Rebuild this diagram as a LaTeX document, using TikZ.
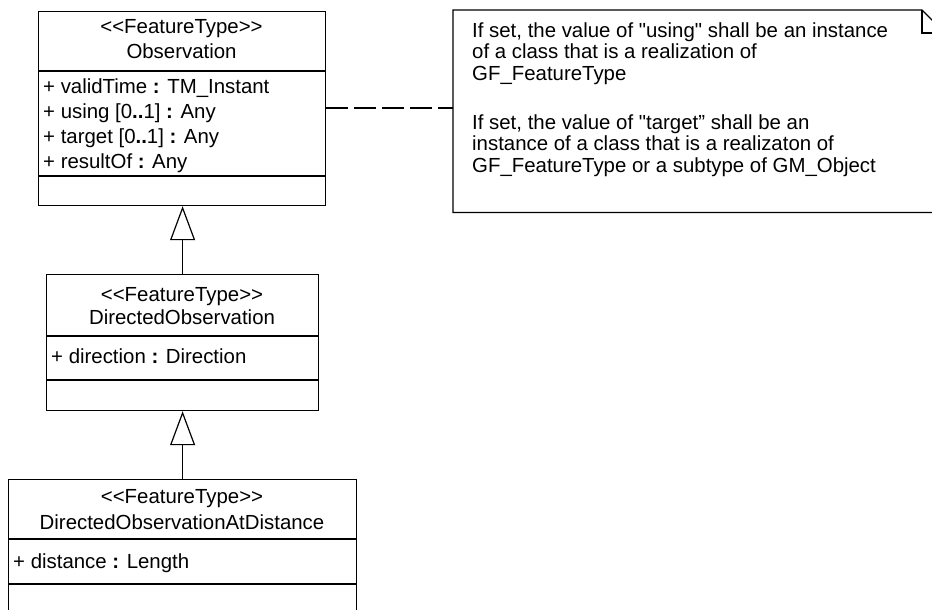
\documentclass[tikz,border=0pt]{standalone}
\usepackage{fontspec}
\setmainfont{Liberation Sans}[Ligatures=TeXOff]
\usetikzlibrary{arrows.meta}
\tikzset{
  umlbox/.style={draw, line width=1.2pt, rectangle, inner sep=0pt, anchor=north west},
  divider/.style={line width=1.2pt},
  txt/.style={inner sep=0pt, font=\fontsize{20.4}{24}\selectfont},
  ctxt/.style={txt, anchor=base},
  ltxt/.style={txt, anchor=base west},
  gen/.style={line width=1.2pt, -{Triangle[open, length=34pt, width=25pt, line width=1.2pt]}},
  notelink/.style={line width=1.2pt, dash pattern=on 21.5pt off 6.5pt},
}
\newcommand{\bc}{\textbf{:}}
\newcommand{\dd}{\textbf{..}}
\begin{document}
\begin{tikzpicture}[x=1pt, y=-1pt]
\clip (0,0) rectangle (932,610);
\fill[white] (0,0) rectangle (932,610);

% Observation
\node[umlbox, minimum width=287pt, minimum height=194pt] (obs) at (38,11) {};
\draw[divider] (38,71) -- (325,71);
\draw[divider] (38,176) -- (325,176);
\node[ctxt] (obsS) at (181.5,34) {<{}<FeatureType>{}>};
\node[ctxt] (obsN) at (181.5,59) {Observation};
\node[ltxt] (obsA1) at (43,93) {+ validTime \bc{} TM\_Instant};
\node[ltxt] (obsA2) at (43,118) {+ using [0\dd1] \bc{} Any};
\node[ltxt] (obsA3) at (43,143) {+ target [0\dd1] \bc{} Any};
\node[ltxt] (obsA4) at (43,168) {+ resultOf \bc{} Any};

% DirectedObservation
\node[umlbox, minimum width=272pt, minimum height=136pt] (dir) at (46,274) {};
\draw[divider] (46,336) -- (318,336);
\draw[divider] (46,380) -- (318,380);
\node[ctxt] (dirS) at (182,301) {<{}<FeatureType>{}>};
\node[ctxt] (dirN) at (182,324) {DirectedObservation};
\node[ltxt] (dirA1) at (51,363) {+ direction \bc{} Direction};

% DirectedObservationAtDistance
\node[umlbox, minimum width=348pt, minimum height=160pt] (dad) at (8,479) {};
\draw[divider] (8,539) -- (356,539);
\draw[divider] (8,584) -- (356,584);
\node[ctxt] (dadS) at (182,503) {<{}<FeatureType>{}>};
\node[ctxt] (dadN) at (182,529) {DirectedObservationAtDistance};
\node[ltxt] (dadA1) at (13,568) {+ distance \bc{} Length};

% generalizations
\draw[gen] (dir.north) -- (dir.north |- obs.south);
\draw[gen] (dad.north) -- (dad.north |- dir.south);

% note
\node[inner sep=0pt, minimum width=492pt, minimum height=202pt, anchor=north west] (note) at (453,10) {};
\draw[line width=1.2pt] (note.north west) -- (922,10) -- (945,33) -- (note.south east) -- (note.south west) -- cycle;
\draw[line width=1.2pt] (922,10) -- (922,33) -- (945,33);
\node[ltxt] (n1) at (472,37.5) {If set, the value of "using" shall be an instance};
\node[ltxt] (n2) at (472,59) {of a class that is a realization of};
\node[ltxt] (n3) at (472,80.5) {GF\_FeatureType};
\node[ltxt] (n4) at (472,129) {If set, the value of "target” shall be an};
\node[ltxt] (n5) at (472,150.5) {instance of a class that is a realizaton of};
\node[ltxt] (n6) at (472,172) {GF\_FeatureType or a subtype of GM\_Object};

% note link
\coordinate (linky) at (0,108);
\draw[notelink] (obs.east |- linky) -- (note.west |- linky);
\end{tikzpicture}
\end{document}
